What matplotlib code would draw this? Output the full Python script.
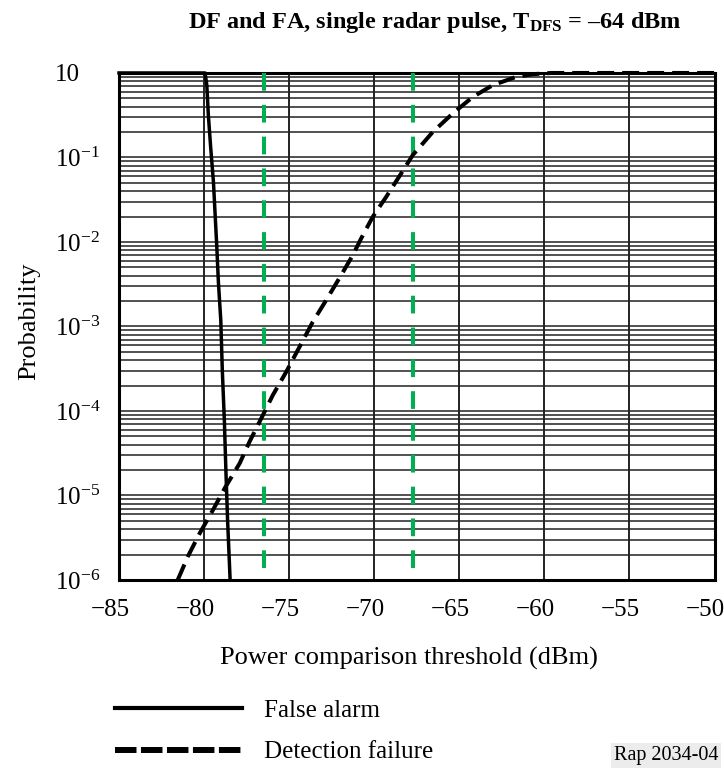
import matplotlib
matplotlib.use("Agg")
import matplotlib.pyplot as plt
import matplotlib.transforms as mtransforms
import numpy as np
from matplotlib.ticker import LogLocator, FixedLocator, FixedFormatter, NullFormatter
from matplotlib.lines import Line2D

plt.rcParams['font.family'] = ['Liberation Serif', 'DejaVu Serif']
plt.rcParams['mathtext.fontset'] = 'custom'
plt.rcParams['mathtext.rm'] = 'Liberation Serif'
plt.rcParams['mathtext.it'] = 'Liberation Serif:italic'
plt.rcParams['mathtext.bf'] = 'Liberation Serif:bold'

# false alarm curve (dBm, log10 probability)
fa_x = [-85, -79.94, -79.84, -79.75, -79.61, -79.45, -79.35, -79.25, -79.16,
        -79.02, -78.93, -78.81, -78.72, -78.62, -78.47]
fa_log = [0, 0, -0.146, -0.50, -0.889, -1.292, -1.682, -2.072, -2.474,
          -2.923, -3.515, -4.106, -4.697, -5.289, -6.0]

# detection failure curve
df_x = [-81.55, -80.95, -80.26, -79.48, -78.79, -77.91, -77.33, -76.64, -75.96,
        -75.17, -74.39, -73.61, -72.82, -71.94, -71.26, -70.77, -70.09, -69.30,
        -68.42, -67.74, -66.56, -65.39, -64.21, -63.04, -61.67, -60.7, -59.6, -50]
df_log = [-6.0, -5.72, -5.448, -5.172, -4.915, -4.620, -4.364, -4.088, -3.812,
          -3.536, -3.241, -2.945, -2.687, -2.391, -2.156, -1.959, -1.703, -1.467,
          -1.190, -0.973, -0.698, -0.480, -0.284, -0.145, -0.047, -0.015, 0, 0]

# green marker thresholds
marks = [-76.5, -67.7]

x_ticks = [-85, -80, -75, -70, -65, -60, -55, -50]
y_ticks = [1, 1e-1, 1e-2, 1e-3, 1e-4, 1e-5, 1e-6]
y_labels = ['10', r'$10^{-1}$', r'$10^{-2}$', r'$10^{-3}$', r'$10^{-4}$', r'$10^{-5}$', r'$10^{-6}$']

fig = plt.figure(figsize=(7.24, 7.73), dpi=100)
ax = fig.add_axes([0.1644, 0.2497, 0.8225, 0.6559])

ax.set_yscale('log')
ax.set_xlim(-85, -50)
ax.set_ylim(1e-6, 1)

ax.yaxis.set_major_locator(FixedLocator(y_ticks))
ax.yaxis.set_major_formatter(FixedFormatter(y_labels))
ax.yaxis.set_minor_locator(LogLocator(base=10, subs=np.arange(2, 10), numticks=100))
ax.yaxis.set_minor_formatter(NullFormatter())
ax.set_xticks(x_ticks)
ax.set_xticklabels([str(v).replace('-', '\u2212') for v in x_ticks])

ax.set_axisbelow(True)
ax.grid(which='both', axis='y', color='#222222', lw=1.1)
ax.grid(which='major', axis='x', color='#111111', lw=1.3)

ax.tick_params(which='both', length=0, labelsize=18)
ax.tick_params(axis='x', pad=14)
ax.tick_params(axis='y', pad=46)
for lbl in ax.get_yticklabels():
    lbl.set_ha('left')
# x labels sit a little left of their grid lines in the original
shift = mtransforms.ScaledTranslation(-9 / 100, 0, fig.dpi_scale_trans)
for lbl in ax.get_xticklabels():
    lbl.set_transform(lbl.get_transform() + shift)

for s in ax.spines.values():
    s.set_linewidth(2.2)

for m in marks:
    ax.plot([m, m], [1, 1e-6], color='#00b050', lw=2.9, dashes=(4.4, 3.5), zorder=3)

ax.plot(fa_x, 10 ** np.array(fa_log), color='black', lw=2.5, zorder=4,
        solid_joinstyle='round', clip_on=False)
ax.plot(df_x, 10 ** np.array(df_log), color='black', lw=2.9, dashes=(4.2, 2.0),
        zorder=4, clip_on=False)

ax.set_xlabel('Power comparison threshold (dBm)', fontsize=19)
ax.xaxis.set_label_coords(0.487, -0.132)
ax.set_ylabel('Probability', fontsize=19)
ax.yaxis.set_label_coords(-0.132, 0.51)

fig.text(0.601, 0.9715, 'DF and FA, single radar pulse, T$_{\\mathbf{DFS}}$ = \u201364 dBm',
         fontsize=17.5, fontweight='bold', ha='center', va='center')

handles = [Line2D([], [], color='black', lw=3.0),
           Line2D([], [], color='black', lw=4.3, dashes=(3.6, 0.75), dash_capstyle='butt')]
fig.legend(handles, ['False alarm', 'Detection failure'], loc='upper left',
           bbox_to_anchor=(0.1588, 0.0957), frameon=False, fontsize=18,
           handlelength=5.1, handletextpad=0.85, labelspacing=0.77,
           borderpad=0, borderaxespad=0)

fig.text(0.992, 0.023, 'Rap 2034-04', fontsize=14.5, ha='right', va='center',
         bbox=dict(facecolor='#ececec', edgecolor='none', pad=2))

fig.savefig('out.png', dpi=100)
